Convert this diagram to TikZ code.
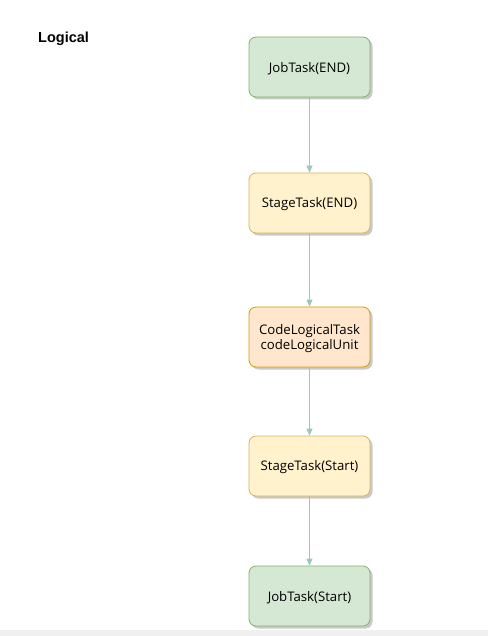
\documentclass[tikz,border=0pt]{standalone}
\usepackage{fontspec}
\setmainfont{Open Sans}
\newfontfamily\titlefont{Liberation Sans}
\usetikzlibrary{arrows.meta,shadows}
\definecolor{greenfill}{HTML}{D5E8D4}
\definecolor{greenline}{HTML}{82B366}
\definecolor{yellowfill}{HTML}{FFF2CC}
\definecolor{yellowline}{HTML}{D6B656}
\definecolor{orangefill}{HTML}{FFE6CC}
\definecolor{orangeline}{HTML}{D79B00}
\definecolor{linkcol}{HTML}{9AC7BF}
\definecolor{bandgray}{HTML}{F0F0F0}
\tikzset{
  taskbox/.style={rounded corners=7pt, minimum width=121pt, minimum height=60pt,
    line width=0.8pt, align=center, inner sep=0pt,
    font=\fontsize{13.2pt}{15pt}\selectfont,
    drop shadow={shadow xshift=2.5pt, shadow yshift=-2.5pt, fill=black!35, opacity=0.6}},
  jobbox/.style={taskbox, fill=greenfill, draw=greenline},
  stagebox/.style={taskbox, fill=yellowfill, draw=yellowline},
  codebox/.style={taskbox, fill=orangefill, draw=orangeline},
  boxtext/.style={inner sep=0pt, align=center, font=\fontsize{13.2pt}{15pt}\selectfont},
  link/.style={draw=linkcol, line width=0.8pt, -{Triangle[width=6pt,length=7pt]}}
}
\begin{document}
\begin{tikzpicture}[x=1pt,y=-1pt]
  \useasboundingbox (0,0) rectangle (488,636);
  \fill[white] (0,0) rectangle (488,636);
  \fill[bandgray] (0,630) rectangle (488,636);
  \node[anchor=west, inner sep=0pt, font=\titlefont\bfseries\fontsize{14.5pt}{16pt}\selectfont] (title) at (38,38.5) {Logical};
  % boxes, with their labels set a little below the geometric centre
  \node[jobbox] (jobend) at (309.5,67) {};
  \node[boxtext] (jobendtext) at (309.5,68.5) {JobTask(END)};
  \node[stagebox] (stageend) at (309.5,203) {};
  \node[boxtext] (stageendtext) at (309.5,204.5) {StageTask(END)};
  \node[codebox] (code) at (309.5,337) {};
  \node[boxtext] (codetext) at (309.5,338.5) {CodeLogicalTask\\codeLogicalUnit};
  \node[stagebox] (stagestart) at (309.5,466) {};
  \node[boxtext] (stagestarttext) at (309.5,467.5) {StageTask(Start)};
  \node[jobbox] (jobstart) at (309.5,596) {};
  \node[boxtext] (jobstarttext) at (309.5,597.5) {JobTask(Start)};
  \draw[link] (jobend) -- (stageend);
  \draw[link] (stageend) -- (code);
  \draw[link] (code) -- (stagestart);
  \draw[link] (stagestart) -- (jobstart);
\end{tikzpicture}
\end{document}
